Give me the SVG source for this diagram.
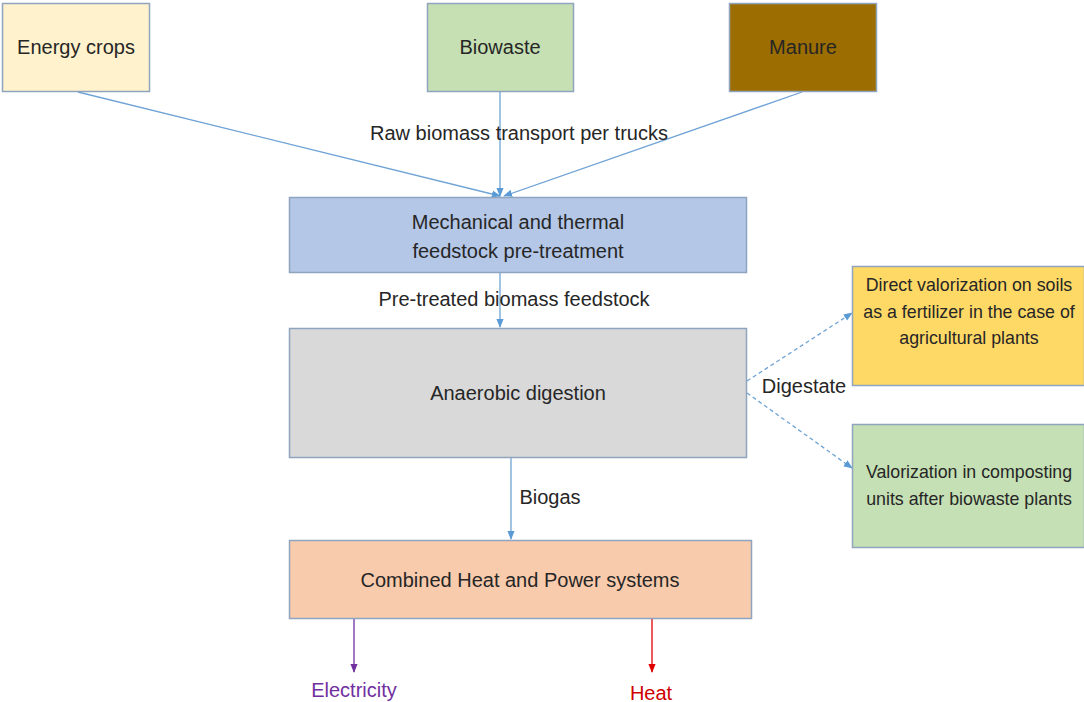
<svg xmlns="http://www.w3.org/2000/svg" width="1084" height="702" viewBox="0 0 1084 702">
<defs>
<style>
.box{stroke:#8FA4BE;stroke-width:1.5}
.t{font-family:"Liberation Sans",Arial,sans-serif;font-size:20px;fill:#262626;text-anchor:middle}
.s{font-size:17.8px}
.c{stroke:#6FA3D6;stroke-width:1.3;fill:none}
.d{stroke:#6FA3D6;stroke-width:1.3;fill:none;stroke-dasharray:4 3}
</style>
<marker id="ab" viewBox="0 0 10 10" refX="9" refY="5" markerWidth="7" markerHeight="7" orient="auto"><path d="M0,1 L10,5 L0,9 z" fill="#5B9BD5"/></marker>
<marker id="ap" viewBox="0 0 10 10" refX="9" refY="5" markerWidth="7" markerHeight="7" orient="auto"><path d="M0,1 L10,5 L0,9 z" fill="#7030A0"/></marker>
<marker id="ar" viewBox="0 0 10 10" refX="9" refY="5" markerWidth="7" markerHeight="7" orient="auto"><path d="M0,1 L10,5 L0,9 z" fill="#E00000"/></marker>
</defs>
<rect width="1084" height="702" fill="#fff"/>
<g id="connectors">
<line class="c" x1="78" y1="92" x2="500" y2="196" marker-end="url(#ab)"/>
<line class="c" x1="500" y1="92" x2="500" y2="196" marker-end="url(#ab)"/>
<line class="c" x1="802" y1="92" x2="504" y2="196" marker-end="url(#ab)"/>
<line class="c" x1="500" y1="273" x2="500" y2="327" marker-end="url(#ab)"/>
<line class="d" x1="747" y1="381" x2="852" y2="313" marker-end="url(#ab)"/>
<line class="d" x1="747" y1="393" x2="852" y2="468" marker-end="url(#ab)"/>
<line class="c" x1="511" y1="452" x2="511" y2="539" marker-end="url(#ab)"/>
<line x1="354" y1="619" x2="354" y2="672" stroke="#7030A0" stroke-width="1.3" marker-end="url(#ap)"/>
<line x1="652" y1="619" x2="652" y2="672" stroke="#E00000" stroke-width="1.3" marker-end="url(#ar)"/>
<text class="t" x="519" y="140">Raw biomass transport per trucks</text>
<text class="t" x="514" y="306">Pre-treated biomass feedstock</text>
<text class="t" x="804" y="393">Digestate</text>
<text class="t" x="550" y="504">Biogas</text>
<text class="t" x="354" y="697" style="fill:#7030A0">Electricity</text>
<text class="t" x="651" y="700" style="fill:#D00000">Heat</text>
</g>
<g id="energy-crops"><rect class="box" x="2.5" y="3.5" width="147" height="88" fill="#FFF2CC"/><text class="t" x="76" y="54">Energy crops</text></g>
<g id="biowaste"><rect class="box" x="427.5" y="3.5" width="146" height="88" fill="#C6E0B4"/><text class="t" x="500" y="54">Biowaste</text></g>
<g id="manure"><rect class="box" x="729.5" y="3.5" width="147" height="88" fill="#9C6D00"/><text class="t" x="803" y="54">Manure</text></g>
<g id="pretreatment"><rect class="box" x="289.5" y="197.5" width="457" height="75" fill="#B4C7E7"/><text class="t" x="518" y="229">Mechanical and thermal</text><text class="t" x="518" y="258">feedstock pre-treatment</text></g>
<g id="anaerobic"><rect class="box" x="289.5" y="328.5" width="457" height="129" fill="#D9D9D9"/><text class="t" x="518" y="400">Anaerobic digestion</text></g>
<g id="direct-valorization"><rect class="box" x="852.5" y="266.5" width="232" height="119" fill="#FFD966"/><text class="t s" x="969" y="291">Direct valorization on soils</text><text class="t s" x="969" y="318">as a fertilizer in the case of</text><text class="t s" x="969" y="344">agricultural plants</text></g>
<g id="composting"><rect class="box" x="852.5" y="424.5" width="232" height="123" fill="#C5E0B4"/><text class="t s" x="969" y="478">Valorization in composting</text><text class="t s" x="969" y="505">units after biowaste plants</text></g>
<g id="chp"><rect class="box" x="289.5" y="540.5" width="462" height="78" fill="#F8CBAD"/><text class="t" x="520" y="587">Combined Heat and Power systems</text></g>
</svg>
